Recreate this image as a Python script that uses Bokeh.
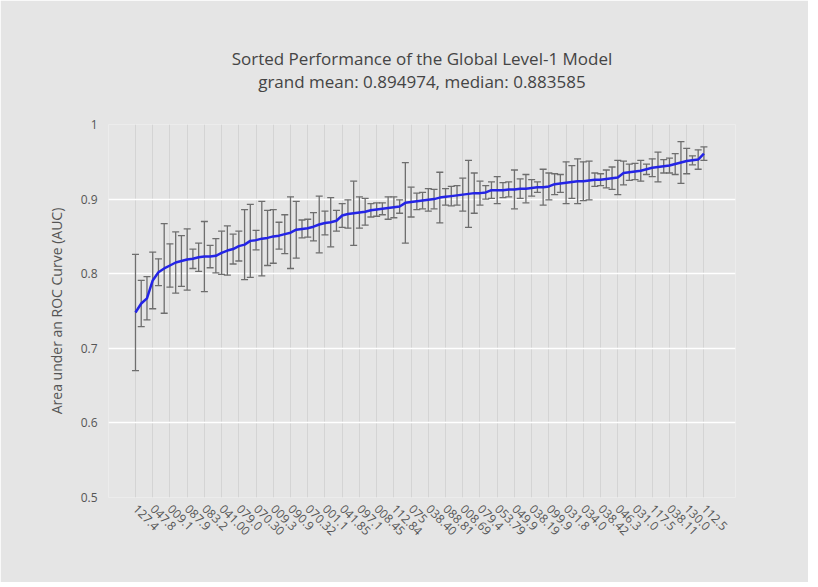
from bokeh.plotting import figure
from bokeh.models import Range1d, FixedTicker, Whisker, TeeHead, ColumnDataSource, Title
from bokeh.embed import file_html
from bokeh.resources import INLINE

# Sorted mean AUC per model (100 models) and error-bar half widths
auc_mean = [
    0.748, 0.760, 0.767, 0.791, 0.802, 0.807, 0.811, 0.815, 0.817, 0.819,
    0.820, 0.822, 0.823, 0.823, 0.824, 0.828, 0.831, 0.833, 0.837, 0.839,
    0.844, 0.845, 0.847, 0.848, 0.850, 0.851, 0.853, 0.855, 0.859, 0.860,
    0.861, 0.863, 0.866, 0.868, 0.869, 0.871, 0.878, 0.880, 0.881, 0.882,
    0.883, 0.885, 0.886, 0.887, 0.888, 0.889, 0.890, 0.895, 0.896, 0.897,
    0.898, 0.899, 0.900, 0.902, 0.903, 0.904, 0.905, 0.906, 0.907, 0.908,
    0.908, 0.909, 0.912, 0.912, 0.912, 0.913, 0.913, 0.914, 0.914, 0.915,
    0.916, 0.916, 0.917, 0.920, 0.921, 0.922, 0.923, 0.924, 0.924, 0.925,
    0.926, 0.926, 0.927, 0.928, 0.929, 0.935, 0.936, 0.937, 0.938, 0.940,
    0.942, 0.943, 0.944, 0.945, 0.947, 0.949, 0.951, 0.952, 0.953, 0.961,
]
auc_err = [
    0.078, 0.031, 0.029, 0.038, 0.018, 0.060, 0.029, 0.041, 0.034, 0.041,
    0.013, 0.019, 0.047, 0.015, 0.023, 0.029, 0.033, 0.020, 0.020, 0.047,
    0.049, 0.013, 0.050, 0.037, 0.036, 0.018, 0.026, 0.048, 0.038, 0.012,
    0.012, 0.019, 0.038, 0.016, 0.033, 0.014, 0.016, 0.019, 0.043, 0.021,
    0.018, 0.009, 0.009, 0.008, 0.015, 0.014, 0.009, 0.054, 0.020, 0.011,
    0.011, 0.015, 0.013, 0.034, 0.011, 0.013, 0.013, 0.022, 0.045, 0.027,
    0.016, 0.009, 0.011, 0.018, 0.010, 0.010, 0.026, 0.013, 0.019, 0.011,
    0.007, 0.024, 0.018, 0.014, 0.012, 0.028, 0.022, 0.030, 0.026, 0.026,
    0.009, 0.008, 0.012, 0.015, 0.023, 0.016, 0.011, 0.011, 0.014, 0.007,
    0.012, 0.020, 0.009, 0.010, 0.014, 0.028, 0.017, 0.006, 0.013, 0.009,
]
tick_labels = [
    "127.4", "047.8", "009.1", "087.9", "083.2", "041.00", "079.0", "070.30",
    "009.3", "090.9", "070.32", "001.1", "041.85", "097.1", "008.45", "112.84",
    "075", "038.40", "088.81", "008.69", "079.4", "053.79", "049.9", "038.19",
    "099.9", "031.8", "034.0", "038.42", "046.3", "031.0", "117.5", "038.11",
    "130.0", "112.5",
]
title_lines = ["Sorted Performance of the Global Level-1 Model",
               "grand mean: 0.894974, median: 0.883585"]
tick_step = 3
y_ticks = [0.5, 0.6, 0.7, 0.8, 0.9, 1.0]

idx = list(range(len(auc_mean)))
src = ColumnDataSource(dict(
    x=idx,
    y=auc_mean,
    upper=[m + e for m, e in zip(auc_mean, auc_err)],
    lower=[m - e for m, e in zip(auc_mean, auc_err)],
))

BG = "#e5e5e5"
FONT = "Open Sans"
TXT = "#555555"

p = figure(width=808, height=582, output_backend="svg", toolbar_location=None,
           title=None,
           x_range=Range1d(-4.7, 104.5), y_range=Range1d(0.5, 1.0),
           min_border_left=108, min_border_right=73,
           min_border_top=124, min_border_bottom=85)
p.background_fill_color = BG
p.border_fill_color = BG
p.outline_line_color = None

# Title lines are left-aligned inside Bokeh's multi-line box: pad the
# shorter second line with non-breaking spaces so it sits centred.
title_text = title_lines[0] + "\n" + "\u00a0" * 6 + title_lines[1]
t = Title(text=title_text, align="center",
          text_font=FONT, text_font_size="17px", text_color="#444444",
          text_font_style="normal", text_line_height=1.0, standoff=64)
p.add_layout(t, "above")

x_tick_pos = [i * tick_step for i in range(len(tick_labels))]
p.xaxis.ticker = FixedTicker(ticks=x_tick_pos)
p.xaxis.major_label_overrides = {pos: lab for pos, lab in zip(x_tick_pos, tick_labels)}
p.xaxis.major_label_orientation = -0.785
p.xaxis.major_label_text_font = FONT
p.xaxis.major_label_text_font_size = "12px"
p.xaxis.major_label_text_color = TXT
p.xaxis.major_label_standoff = 3
p.xaxis.axis_line_color = None
p.xaxis.major_tick_line_color = None
p.xaxis.minor_tick_line_color = None

p.yaxis.ticker = FixedTicker(ticks=y_ticks)
p.yaxis.major_label_overrides = {1.0: "1"}
p.yaxis.major_label_text_font = FONT
p.yaxis.major_label_text_font_size = "12px"
p.yaxis.major_label_text_color = TXT
p.yaxis.major_label_standoff = 5
p.yaxis.axis_line_color = None
p.yaxis.major_tick_line_color = None
p.yaxis.minor_tick_line_color = None
p.yaxis.axis_label = "Area under an ROC Curve (AUC)"
p.yaxis.axis_label_text_font = FONT
p.yaxis.axis_label_text_font_size = "14px"
p.yaxis.axis_label_text_font_style = "normal"
p.yaxis.axis_label_text_color = TXT
p.yaxis.axis_label_standoff = 12

p.xgrid.ticker = FixedTicker(ticks=x_tick_pos)
p.xgrid.grid_line_color = "#d4d4d4"
p.xgrid.grid_line_width = 1
p.ygrid.ticker = FixedTicker(ticks=[t for t in y_ticks if 0.5 < t < 1.0])
p.ygrid.grid_line_color = "#ffffff"
p.ygrid.grid_line_width = 1.5

ERR = "#6e6e6e"
wh = Whisker(base="x", upper="upper", lower="lower", source=src,
             line_color=ERR, line_width=1.3, level="glyph",
             upper_head=TeeHead(size=7, line_color=ERR, line_width=1.3),
             lower_head=TeeHead(size=7, line_color=ERR, line_width=1.3))
p.add_layout(wh)

r = p.line("x", "y", source=src, line_color="#2424e6", line_width=2.5)
r.level = "overlay"

open("out.html", "w").write(file_html(p, INLINE))
